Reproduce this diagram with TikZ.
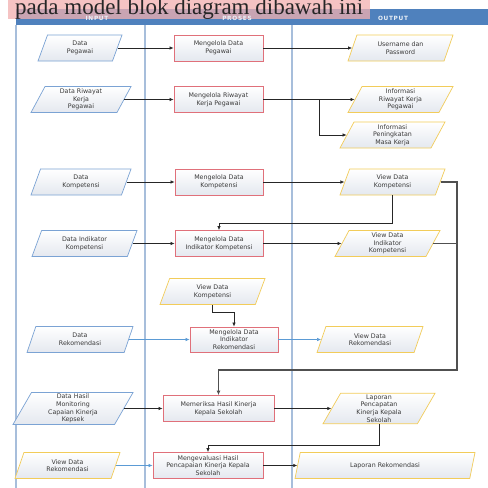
\documentclass[tikz,border=0pt]{standalone}
\usepackage{fontspec}
\setmainfont{DejaVu Sans}
\newfontfamily\serifx{Liberation Serif}
\newfontfamily\hdrfont[LetterSpace=12]{DejaVu Sans}
\usetikzlibrary{shapes.geometric,arrows.meta,calc}
\definecolor{barblue}{HTML}{4F81BD}
\definecolor{lanec}{HTML}{A7BEDB}
\definecolor{inblue}{HTML}{7BA3D4}
\definecolor{outyel}{HTML}{F2CC5A}
\definecolor{procred}{HTML}{E0707A}
\definecolor{fillg}{HTML}{E4E8EF}
\definecolor{txt}{HTML}{3A3A3A}
\definecolor{lineblue}{HTML}{5B9BD5}
\definecolor{pinkhl}{HTML}{F2B0B0}
\definecolor{loopg}{HTML}{505050}
\begin{document}
\begin{tikzpicture}[x=1pt,y=-1pt,
  every node/.style={font=\fontsize{6.3}{7.6}\selectfont, text=txt, align=center},
  inp/.style={trapezium, trapezium left angle=60, trapezium right angle=120,
     trapezium stretches body, draw=inblue, line width=0.7pt,
     top color=white, bottom color=fillg, minimum height=26pt, inner sep=1.5pt},
  outp/.style={inp, draw=outyel},
  proc/.style={rectangle, draw=procred, line width=0.8pt, top color=white,
     bottom color=fillg, minimum height=26pt, inner sep=1.5pt},
  arr/.style={-{Latex[length=4pt,width=3.5pt]}, line width=0.7pt, draw=black!85},
  barr/.style={-{Latex[length=4pt,width=3.5pt]}, line width=0.6pt, draw=lineblue},
  bigline/.style={-{Latex[length=4.5pt,width=4pt]}, line width=1.4pt, draw=loopg},
  plainln/.style={line width=0.9pt, draw=loopg},
  lane/.style={draw=lanec, line width=1.2pt},
  hdr/.style={font=\hdrfont\bfseries\fontsize{5.8}{7}\selectfont, text=white!88!barblue},
]
\useasboundingbox (0,0) rectangle (488,488);
\clip (0,0) rectangle (488,488);
\fill[white] (0,0) rectangle (488,488);
% header bar and lanes
\fill[barblue] (16,9) rectangle (488,25);
\draw[lane] (16,25) -- (16,488);
\draw[lane] (145,25) -- (145,488);
\draw[lane] (292,25) -- (292,488);
% title highlight
\fill[pinkhl, opacity=0.75] (8,0) rectangle (370,19);
\node[anchor=base west, font=\serifx\fontsize{23}{26}\selectfont, text=black!85, inner sep=0] (title) at (15,14.5) {pada model blok diagram dibawah ini};
\node[hdr] (hin) at (97,18) {INPUT};
\node[hdr] (hpr) at (237,18) {PROSES};
\node[hdr] (hout) at (393,18) {OUTPUT};

% row 1
\node[inp, minimum width=84pt] (dp) at (80,48) {Data\\Pegawai};
\node[proc, minimum width=89pt] (m1) at (218.5,48) {Mengelola Data\\Pegawai};
\node[outp, minimum width=105pt] (un) at (400.5,48) {Username dan\\Password};
% row 2
\node[inp, minimum width=100pt] (dr) at (81,99.5) {Data Riwayat\\Kerja\\Pegawai};
\node[proc, minimum width=89pt] (m2) at (218.5,99.5) {Mengelola Riwayat\\Kerja Pegawai};
\node[outp, minimum width=105pt] (ir) at (400.5,99.5) {Informasi\\Riwayat Kerja\\Pegawai};
\node[outp, minimum width=105pt] (ip) at (392.5,135) {Informasi\\Peningkatan\\Masa Kerja};
% row 3
\node[inp, minimum width=100pt] (dk) at (81,182) {Data\\Kompetensi};
\node[proc, minimum width=88pt] (m3) at (219,182) {Mengelola Data\\Kompetensi};
\node[outp, minimum width=105pt] (vk) at (392.5,182) {View Data\\Kompetensi};
% row 4
\node[inp, minimum width=105pt] (di) at (84.5,243.5) {Data Indikator\\Kompetensi};
\node[proc, minimum width=88pt] (m4) at (219,243.5) {Mengelola Data\\Indikator Kompetensi};
\node[outp, minimum width=105pt] (vi) at (387.5,243.5) {View Data\\Indikator\\Kompetensi};
% row 5
\node[outp, minimum width=105pt] (vkp) at (212.5,291.5) {View Data\\Kompetensi};
\node[inp, minimum width=106pt] (drk) at (80,339.5) {Data\\Rekomendasi};
\node[proc, minimum width=88pt, minimum height=25pt] (m5) at (234,339.5) {Mengelola Data\\Indikator\\Rekomendasi};
\node[outp, minimum width=106pt] (vr) at (370,339.5) {View Data\\Rekomendasi};
% row 6
\node[inp, minimum width=120pt] (dh) at (73,408.5) {Data Hasil\\Monitoring\\Capaian Kinerja\\Kepsek};
\node[proc, minimum width=111pt] (m6) at (218.5,408.5) {Memeriksa Hasil Kinerja\\Kepala Sekolah};
\node[outp, minimum width=112pt] (lp) at (379,408.5) {Laporan\\Pencapatan\\Kinerja Kepala\\Sekolah};
% row 7
\node[outp, minimum width=105pt] (vri) at (67.5,465.5) {View Data\\Rekomendasi};
\node[proc, minimum width=110pt] (m7) at (208,465.5) {Mengevaluasi Hasil\\Pencapaian Kinerja Kepala\\Sekolah};
\node[outp, minimum width=180pt] (lr) at (385,465.5) {Laporan Rekomendasi};

% connectors
\draw[arr] (dp.east) -- (dp.east -| m1.west);
\draw[arr] (m1.east) -- (m1.east -| un.west);
\draw[arr] (dr.east) -- (dr.east -| m2.west);
\draw[arr] (m2.east) -- (m2.east -| ir.west);
\coordinate (br) at (319,99.5);
\draw[arr] (br) |- (ip.west);
\draw[arr] (dk.east) -- (dk.east -| m3.west);
\draw[arr] (m3.east) -- (m3.east -| vk.west);
\coordinate (k1) at (219,223);
\draw[arr] (vk.south) |- (k1) -- (m4.north);
\draw[arr] (di.east) -- (di.east -| m4.west);
\draw[arr] (m4.east) -- (m4.east -| vi.west);
\coordinate (k2) at (457,370);
\draw[bigline] (vk.east) -| (k2) -| (m6.north);
\draw[plainln] (vi.east) -- (vi.east -| k2);
\coordinate (k3) at (234,312);
\draw[arr] (vkp.south) |- (k3) -- (m5.north);
\draw[barr] (drk.east) -- (drk.east -| m5.west);
\draw[barr] (m5.east) -- (m5.east -| vr.west);
\draw[arr] (dh.east) -- (dh.east -| m6.west);
\draw[arr] (m6.east) -- (m6.east -| lp.west);
\coordinate (k4) at (208,445);
\draw[arr] (lp.south) |- (k4) -- (m7.north);
\draw[barr] (vri.east) -- (vri.east -| m7.west);
\draw[arr] (m7.east) -- (m7.east -| lr.west);
\end{tikzpicture}
\end{document}
